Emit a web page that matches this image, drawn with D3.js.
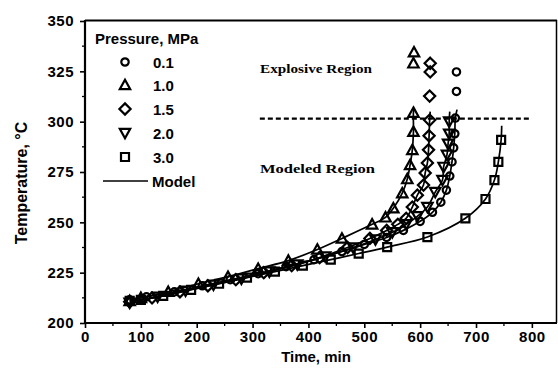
<!DOCTYPE html>
<html><head><meta charset="utf-8">
<script src="https://cdn.jsdelivr.net/npm/d3@7"></script>
<style>
body{margin:0;background:#fff;}
svg{display:block;}
text{font-family:"Liberation Sans",Arial,sans-serif;font-weight:bold;fill:#000;}
</style></head>
<body><svg id="c" width="558" height="373"></svg>
<script>
// ---- data ----
const pressures = ["0.1", "1.0", "1.5", "2.0", "3.0"];
const shapes = ["circle", "triUp", "diamond", "triDown", "square"];
const time01 = [80,110,160,210,260,310,360,410,460,500,540,570,600,622,637,647,653,657,660,662,663,665,665];
const temp01 = [211.5,213,215.5,218.5,221.5,224.5,228,231.5,235.5,239,242.5,246,250.5,255,260,266,273,280,287,294,301.8,315,324.7];
const time10 = [80,100,149,203,256,310,364,416,460,514,538,552,568,577,582,586,588,588,588,589];
const temp10 = [211,212.5,215.5,219.5,223,227,231,236.5,242,249,252.5,257,264.5,271.5,278.5,286,295,304.5,329,334.5];
const time15 = [80,120,170,220,270,320,370,420,470,510,540,560,575,586,595,606,609,613,615,616,617,617,618,618];
const temp15 = [210.5,212.5,215.5,218.5,221.5,225,228.5,232.5,237.5,242,246,249,252,257.6,263.5,268.5,274.5,279.5,286,293,300.8,312.7,324.7,329];
const time20 = [80,130,180,230,280,330,380,430,480,520,550,575,595,613,627,640,642,648,650,652,652];
const temp20 = [210,213,216,219,222,225.5,229,233,237.5,241.5,245,249,253,257.6,265,271,277.5,283.5,289,294,300];
const time30 = [80,100,140,190,240,290,340,390,440,490,541,613,681,717,733,740,745];
const temp30 = [211,211.5,213.5,216.5,219.5,222.5,225.5,228.5,231.5,234.5,237.7,242.7,252,261.6,271,280,291];
// model curves end slightly above the last fitted point
const modelTopTime = [666, 589, 618, 653, 746];
const modelTopTemp = [306, 306, 305, 305, 298];
const xTicks = [0,100,200,300,400,500,600,700,800];
const yTicks = [200,225,250,275,300,325,350];
const explosionTemp = 301.5;
const dashStart = 313, dashEnd = 800;

const times = [time01, time10, time15, time20, time30];
const temps = [temp01, temp10, temp15, temp20, temp30];

// ---- drawing ----
const svg = d3.select("#c");
const x = d3.scaleLinear().domain([0, 845]).range([85, 557]);
const y = d3.scaleLinear().domain([200, 350]).range([323, 21]);

function symPath(shape) {
  switch (shape) {
    case "circle": return "M3.7,0A3.7,3.7 0 1,1 -3.7,0A3.7,3.7 0 1,1 3.7,0Z";
    case "triUp": return "M0,-5.2L5.2,4.2L-5.2,4.2Z";
    case "triDown": return "M0,5.2L5.2,-4.2L-5.2,-4.2Z";
    case "diamond": return "M0,-5.6L5.6,0L0,5.6L-5.6,0Z";
    case "square": return "M-4,-4H4V4H-4Z";
  }
}

// frame (top & right)
svg.append("line").attr("x1", x(0)).attr("x2", 557).attr("y1", 20.5).attr("y2", 20.5)
  .attr("stroke", "#000").attr("stroke-width", 2.2);
svg.append("line").attr("x1", 556.5).attr("x2", 556.5).attr("y1", 20).attr("y2", 323)
  .attr("stroke", "#000").attr("stroke-width", 1.5);

// axes
const xAxis = d3.axisBottom(x).tickValues(xTicks).tickSize(5).tickPadding(3).tickFormat(d3.format("d"));
const gx = svg.append("g").attr("transform", `translate(0,${y(200)})`).call(xAxis);
gx.select(".domain").attr("d", `M${x(0)},0H557`).attr("stroke-width", 2.2);
gx.selectAll(".tick line").attr("stroke-width", 1.6);
gx.selectAll("text").attr("font-size", 15).style("letter-spacing", "0.5px");
gx.selectAll(".minor").data(d3.range(50, 850, 100)).enter().append("line")
  .attr("x1", d => x(d)).attr("x2", d => x(d)).attr("y1", 0).attr("y2", 3)
  .attr("stroke", "#000").attr("stroke-width", 1.3);

const yAxis = d3.axisLeft(y).tickValues(yTicks).tickSize(5).tickPadding(6);
const gy = svg.append("g").attr("transform", `translate(${x(0)},0)`).call(yAxis);
gy.select(".domain").attr("d", `M0,${y(200)}V20`).attr("stroke-width", 2.2);
gy.selectAll(".tick line").attr("stroke-width", 1.6);
gy.selectAll("text").attr("font-size", 15).style("letter-spacing", "0.5px");
gy.selectAll(".minor").data(d3.range(212.5, 350, 25)).enter().append("line")
  .attr("x1", -3).attr("x2", 0).attr("y1", d => y(d)).attr("y2", d => y(d))
  .attr("stroke", "#000").attr("stroke-width", 1.3);

// axis titles
svg.append("text").attr("x", 316).attr("y", 362).attr("text-anchor", "middle")
  .attr("font-size", 15).text("Time, min");
svg.append("text").attr("transform", "translate(27,183) rotate(-90)").attr("text-anchor", "middle")
  .attr("font-size", 16).text("Temperature, °C");

// explosion line
svg.append("line").attr("x1", x(dashStart)).attr("x2", x(dashEnd))
  .attr("y1", y(explosionTemp)).attr("y2", y(explosionTemp))
  .attr("stroke", "#000").attr("stroke-width", 2.2).attr("stroke-dasharray", "5,3");

svg.append("text").attr("x", 260).attr("y", 73).attr("font-size", 13)
  .style("font-family", "'Liberation Serif','Times New Roman',serif")
  .attr("textLength", 112).attr("lengthAdjust", "spacingAndGlyphs").text("Explosive Region");
svg.append("text").attr("x", 260).attr("y", 173).attr("font-size", 13)
  .style("font-family", "'Liberation Serif','Times New Roman',serif")
  .attr("textLength", 115).attr("lengthAdjust", "spacingAndGlyphs").text("Modeled Region");

// model lines
const line = d3.line().x(d => x(d[0])).y(d => y(d[1])).curve(d3.curveCatmullRom.alpha(0.5));
times.forEach((ts, i) => {
  const pts = ts.map((t, j) => [t, temps[i][j]]).filter(p => p[1] < modelTopTemp[i]);
  pts.push([modelTopTime[i], modelTopTemp[i]]);
  svg.append("path").attr("d", line(pts)).attr("fill", "none")
    .attr("stroke", "#000").attr("stroke-width", 1.7);
});

// markers
times.forEach((ts, i) => {
  svg.append("g").selectAll("path").data(ts.map((t, j) => [t, temps[i][j]])).enter()
    .append("path").attr("d", symPath(shapes[i]))
    .attr("transform", d => `translate(${x(d[0])},${y(d[1])})`)
    .attr("fill", "none").attr("stroke", "#000").attr("stroke-width", 2.2);
});

// legend
const lg = svg.append("g");
lg.append("text").attr("x", 95).attr("y", 44).attr("font-size", 15).text("Pressure, MPa");
const rowsY = [62, 85, 109, 133, 157];
pressures.forEach((p, i) => {
  lg.append("path").attr("d", symPath(shapes[i])).attr("transform", `translate(125,${rowsY[i]})`)
    .attr("fill", "none").attr("stroke", "#000").attr("stroke-width", 2.2);
  lg.append("text").attr("x", 153).attr("y", rowsY[i] + 5.5).attr("font-size", 15).text(p);
});
lg.append("line").attr("x1", 103).attr("x2", 148).attr("y1", 181).attr("y2", 181)
  .attr("stroke", "#000").attr("stroke-width", 1.7);
lg.append("text").attr("x", 152).attr("y", 186.5).attr("font-size", 15).text("Model");
</script></body></html>
